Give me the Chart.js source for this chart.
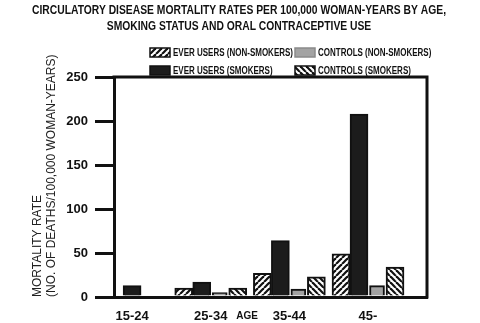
<!DOCTYPE html>
<html>
<head>
<meta charset="utf-8">
<script src="https://cdn.jsdelivr.net/npm/chart.js@4.4.1/dist/chart.umd.min.js"></script>
<style>
  html, body { margin: 0; padding: 0; background: #fff; }
  #chart { display: block; }
</style>
</head>
<body>
<canvas id="chart" width="480" height="323"></canvas>
<script>
const ageGroups = ['15-24', '25-34', '35-44', '45-'];
const everUsersNonSmokers = [null, 10, 27, 49];
const everUsersSmokers = [13, 17, 64, 208];
const controlsNonSmokers = [null, 5, 9, 13];
const controlsSmokers = [null, 10, 23, 34];
const yTicks = [0, 50, 100, 150, 200, 250];
const titleLines = [
  'CIRCULATORY DISEASE MORTALITY RATES PER 100,000 WOMAN-YEARS BY AGE,',
  'SMOKING STATUS AND ORAL CONTRACEPTIVE USE',
];

const SANS = "'Liberation Sans', Arial, sans-serif";
const INK = '#111';

const canvas = document.getElementById('chart');
const mainCtx = canvas.getContext('2d');

// diagonal hatch fill, '/' or '\'
function hatch(dir) {
  const size = 6;
  const c = document.createElement('canvas');
  c.width = size;
  c.height = size;
  const ctx = c.getContext('2d');
  ctx.fillStyle = '#fff';
  ctx.fillRect(0, 0, size, size);
  ctx.strokeStyle = INK;
  ctx.lineWidth = 2.2;
  [-size, 0, size].forEach((off) => {
    ctx.beginPath();
    if (dir === '/') {
      ctx.moveTo(off, size);
      ctx.lineTo(off + size, 0);
    } else {
      ctx.moveTo(off, 0);
      ctx.lineTo(off + size, size);
    }
    ctx.stroke();
  });
  return mainCtx.createPattern(c, 'repeat');
}

// the original uses a condensed face; squeeze a normal one horizontally
function narrowText(ctx, text, x, y, squeeze) {
  const w = ctx.measureText(text).width;
  ctx.fillText(text, x, y, w * squeeze);
}

const toPoints = (arr) => arr.map((v, i) => ({ x: i, y: v }));

const datasets = [
  {
    label: 'EVER USERS (NON-SMOKERS)',
    data: toPoints(everUsersNonSmokers),
    backgroundColor: hatch('/'),
    borderColor: INK,
  },
  {
    label: 'EVER USERS (SMOKERS)',
    data: toPoints(everUsersSmokers),
    backgroundColor: '#1c1c1c',
    borderColor: INK,
  },
  {
    label: 'CONTROLS (NON-SMOKERS)',
    data: toPoints(controlsNonSmokers),
    backgroundColor: '#a3a3a3',
    borderColor: INK,
    maxBarThickness: 15,
    legendBorder: '#8a8a8a',
  },
  {
    label: 'CONTROLS (SMOKERS)',
    data: toPoints(controlsSmokers),
    backgroundColor: hatch('\\'),
    borderColor: INK,
  },
];

// legend grid: [datasetIndex, column, row]
const legendCells = [[0, 0, 0], [2, 1, 0], [1, 0, 1], [3, 1, 1]];

const decorations = {
  id: 'decorations',
  afterDraw(chart) {
    const { ctx, chartArea: a, scales } = chart;
    ctx.save();

    // top and right edge of the frame
    ctx.strokeStyle = INK;
    ctx.lineWidth = 3;
    ctx.beginPath();
    ctx.moveTo(a.left - 1.5, a.top);
    ctx.lineTo(a.right, a.top);
    ctx.lineTo(a.right, a.bottom + 1.5);
    ctx.stroke();

    ctx.fillStyle = INK;
    ctx.textBaseline = 'middle';
    ctx.textAlign = 'center';

    // heading
    ctx.font = 'bold 12px ' + SANS;
    narrowText(ctx, titleLines[0], 239, 11, 0.86);
    narrowText(ctx, titleLines[1], 239, 26.5, 0.86);

    // "AGE" sits between the 2nd and 3rd groups
    const xMid =
      (scales.x.getPixelForValue(1) + scales.x.getPixelForValue(2)) / 2;
    ctx.font = 'bold 10px ' + SANS;
    ctx.fillText('AGE', xMid - 3, 316);

    // legend
    const colX = [150, 295];
    const rowY = [48, 66];
    ctx.textAlign = 'left';
    ctx.font = 'bold 10px ' + SANS;
    legendCells.forEach(([di, col, row]) => {
      const ds = chart.data.datasets[di];
      const x = colX[col];
      const y = rowY[row];
      ctx.fillStyle = ds.backgroundColor;
      ctx.fillRect(x, y, 20, 9);
      ctx.lineWidth = 1.5;
      ctx.strokeStyle = ds.legendBorder || INK;
      ctx.strokeRect(x, y, 20, 9);
      ctx.fillStyle = INK;
      narrowText(ctx, ds.label, x + 23, y + 5, 0.8);
    });

    ctx.restore();
  },
};

new Chart(canvas, {
  type: 'bar',
  data: { datasets },
  plugins: [decorations],
  options: {
    responsive: false,
    animation: false,
    devicePixelRatio: 1,
    layout: { padding: { left: 0, right: 53, top: 77, bottom: 0 } },
    datasets: {
      bar: {
        barThickness: 18,
        skipNull: true,
        borderWidth: 2,
      },
    },
    scales: {
      x: {
        type: 'linear',
        min: -0.23,
        max: 3.75,
        offset: false,
        afterBuildTicks: (s) => {
          s.ticks = ageGroups.map((_, i) => ({ value: i }));
        },
        afterFit: (s) => {
          s.height = 26;
        },
        grid: { display: false },
        border: { display: true, color: INK, width: 3 },
        ticks: {
          callback: (v) => ageGroups[v],
          font: { family: SANS, size: 13, weight: 'bold' },
          color: INK,
          padding: 4,
          maxRotation: 0,
          autoSkip: false,
        },
      },
      y: {
        min: 0,
        max: 250,
        afterBuildTicks: (s) => {
          s.ticks = yTicks.map((v) => ({ value: v }));
        },
        afterFit: (s) => {
          s.width = 114;
        },
        grid: {
          drawOnChartArea: false,
          drawTicks: true,
          tickLength: 19,
          color: INK,
          lineWidth: 3,
        },
        border: { display: true, color: INK, width: 3 },
        ticks: {
          font: { family: SANS, size: 13, weight: 'bold' },
          color: INK,
          padding: 7,
        },
        title: {
          display: true,
          align: 'start',
          text: ['MORTALITY RATE', '(NO. OF DEATHS/100,000 WOMAN-YEARS)'],
          font: { family: SANS, size: 12 },
          color: '#222',
          padding: { top: 30, bottom: 0 },
        },
      },
    },
    plugins: {
      legend: { display: false },
      tooltip: { enabled: false },
    },
  },
});
</script>
</body>
</html>
